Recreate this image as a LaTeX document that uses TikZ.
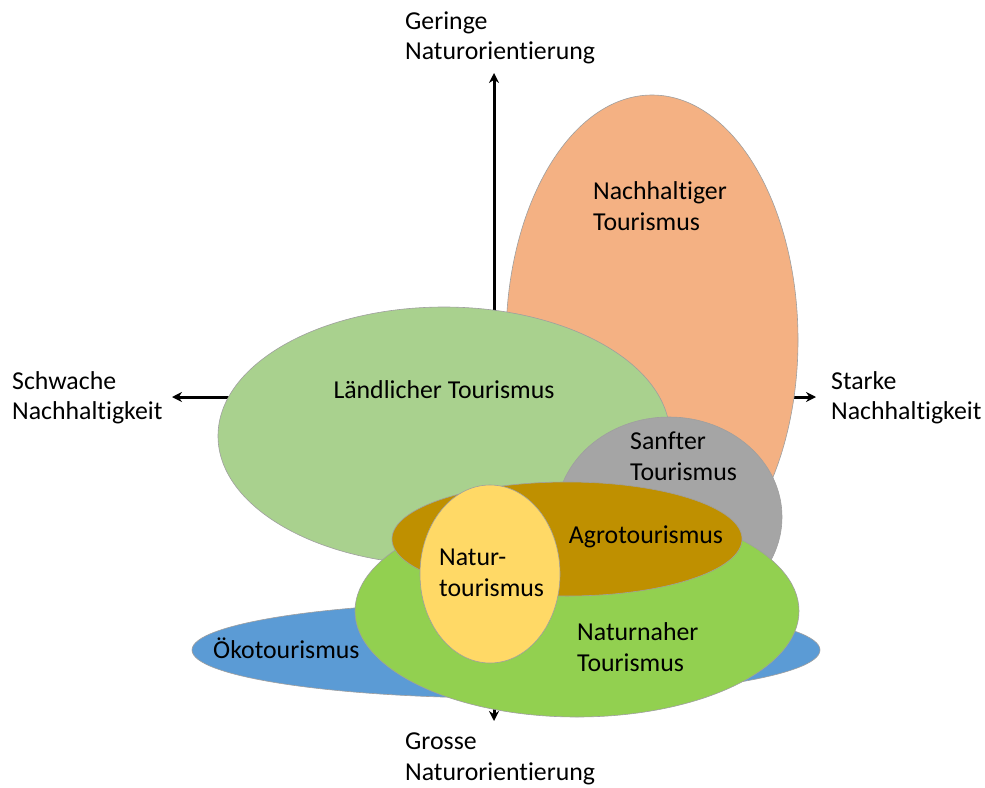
\documentclass[tikz,border=0pt]{standalone}
\usepackage{fontspec}
\setmainfont[Ligatures=NoCommon]{Carlito}
\usetikzlibrary{shapes.geometric,arrows.meta}
\definecolor{orangezone}{HTML}{F4B183}
\definecolor{landzone}{HTML}{A9D18E}
\definecolor{grayzone}{HTML}{A5A5A5}
\definecolor{bluezone}{HTML}{5B9BD5}
\definecolor{greenzone}{HTML}{92D050}
\definecolor{agrozone}{HTML}{BF9000}
\definecolor{yellowzone}{HTML}{FFD966}
\begin{document}
\begin{tikzpicture}[x=1pt,y=-1pt]
	\tikzstyle{zone}=[ellipse,draw=gray!75,line width=0.6pt,inner sep=0pt]
	\tikzstyle{lbl}=[inner sep=0pt,align=left,font=\fontsize{25.8}{30.5}\selectfont]
	\tikzstyle{axis}=[line width=3pt,{Stealth[length=10pt,width=10pt]}-{Stealth[length=10pt,width=10pt]}]

	\useasboundingbox (0,0) rectangle (985,787);

	\coordinate (up) at (494,73);
	\coordinate (down) at (494,721);
	\coordinate (west) at (172,397);
	\coordinate (east) at (816,397);
	\draw[axis] (west) -- (east);
	\draw[axis] (down) -- (up);

	\node[zone,fill=orangezone,minimum width=292pt,minimum height=490pt] (nachhaltig) at (652,340) {};
	\node[zone,fill=landzone,minimum width=452pt,minimum height=258pt] (laendlich) at (444,436) {};
	\node[zone,fill=grayzone,minimum width=226pt,minimum height=200pt] (sanft) at (669,517) {};
	\node[zone,fill=bluezone,minimum width=628pt,minimum height=96pt] (oeko) at (506,650) {};
	\node[zone,fill=greenzone,minimum width=444pt,minimum height=212pt] (naturnah) at (577,611) {};
	\node[zone,fill=agrozone,minimum width=350pt,minimum height=114pt] (agro) at (567,539) {};
	\node[zone,fill=yellowzone,minimum width=140pt,minimum height=178pt] (natur) at (490,574) {};

	\node[lbl,anchor=west] (gering) at (405,38) {Geringe\\Naturorientierung};
	\node[lbl,anchor=west] (gross) at (405,759) {Grosse\\Naturorientierung};
	\node[lbl,anchor=west] (schwach) at (12,398) {Schwache\\Nachhaltigkeit};
	\node[lbl,anchor=west] (stark) at (831,398) {Starke\\Nachhaltigkeit};

	\node[lbl,anchor=west] (nachhaltigtxt) at (593,206) {Nachhaltiger\\Tourismus};
	\node[lbl] (laendlichtxt) at (444,390) {Ländlicher Tourismus};
	\node[lbl,anchor=west] (sanfttxt) at (630,456) {Sanfter\\Tourismus};
	\node[lbl] (agrotxt) at (646,537) {Agrotourismus};
	\node[lbl,anchor=west] (naturtxt) at (439,573) {Natur-\\tourismus};
	\node[lbl,anchor=west] (naturnahtxt) at (577,647) {Naturnaher\\Tourismus};
	\node[lbl,anchor=west] (oekotxt) at (213,648) {Ökotourismus};
\end{tikzpicture}
\end{document}
